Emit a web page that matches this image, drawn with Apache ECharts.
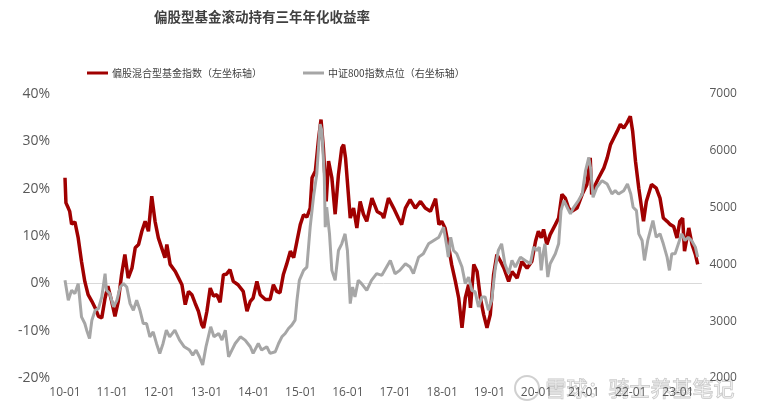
<!DOCTYPE html>
<html>
<head>
<meta charset="utf-8">
<script src="https://cdn.jsdelivr.net/npm/echarts@6/dist/echarts.min.js"></script>
<style>html,body{margin:0;padding:0;background:#fff}#c{width:759px;height:411px}</style>
</head>
<body>
<div id="c"></div>
<script>
const titleText = '偏股型基金滚动持有三年年化收益率';
const fundName = '偏股混合型基金指数（左坐标轴）';
const csiName = '中证800指数点位（右坐标轴）';
const xTickYears = [2010,2011,2012,2013,2014,2015,2016,2017,2018,2019,2020,2021,2022,2023];
const leftTicks = [-20,-10,0,10,20,30,40];
const rightTicks = [2000,3000,4000,5000,6000,7000];

// fund index: rolling 3-year annualised return (%), x = fractional year
const fundX = [2010.00,2010.02,2010.07,2010.10,2010.14,2010.21,2010.28,2010.35,2010.42,2010.49,2010.57,2010.64,2010.71,2010.78,2010.85,2010.91,2010.99,
2011.06,2011.13,2011.20,2011.27,2011.34,2011.42,2011.49,2011.56,2011.63,2011.70,2011.77,2011.84,2011.91,2011.98,
2012.05,2012.12,2012.16,2012.23,2012.34,2012.41,2012.48,2012.55,2012.62,2012.69,2012.76,2012.83,2012.90,2012.94,
2013.01,2013.08,2013.15,2013.22,2013.29,2013.36,2013.42,2013.50,2013.57,2013.67,2013.78,2013.86,2013.93,2013.99,
2014.07,2014.14,2014.25,2014.35,2014.42,2014.49,2014.56,2014.63,2014.70,2014.78,2014.85,2014.92,2014.99,
2015.06,2015.13,2015.20,2015.24,2015.31,2015.38,2015.43,2015.48,2015.54,2015.59,2015.66,2015.73,2015.80,2015.87,2015.91,2015.95,
2016.05,2016.12,2016.19,2016.26,2016.33,2016.40,2016.51,2016.62,2016.72,2016.76,2016.86,2016.97,
2017.07,2017.14,2017.22,2017.32,2017.43,2017.54,2017.64,2017.75,2017.86,2017.93,2017.99,
2018.06,2018.13,2018.20,2018.28,2018.35,2018.42,2018.49,2018.56,2018.60,2018.67,2018.74,2018.81,2018.88,2018.95,
2019.02,2019.09,2019.16,2019.24,2019.31,2019.41,2019.48,2019.59,2019.69,2019.80,2019.90,2019.98,
2020.04,2020.10,2020.15,2020.22,2020.29,2020.40,2020.47,2020.54,2020.61,2020.68,2020.75,2020.86,2020.97,
2021.07,2021.14,2021.17,2021.25,2021.32,2021.43,2021.50,2021.57,2021.64,2021.71,2021.78,2021.85,2021.92,2021.99,
2022.04,2022.10,2022.17,2022.27,2022.33,2022.44,2022.54,2022.62,2022.69,2022.77,2022.84,2022.91,2022.98,
2023.04,2023.10,2023.14,2023.23,2023.30,2023.37,2023.42];
const fundY = [22.3,17.0,15.9,15.2,12.5,13.0,9.6,4.6,0.4,-2.4,-3.8,-5.2,-7.0,-7.3,-3.1,-0.6,-3.8,
-7.0,-3.8,1.8,6.1,1.1,3.2,7.5,8.2,11.0,13.1,11.0,18.4,13.1,9.6,
7.5,5.4,8.2,4.0,2.5,1.1,-0.3,-4.5,-1.7,-2.4,-4.2,-5.9,-8.7,-9.4,
-5.9,-1.0,-2.7,-2.4,-4.0,1.8,1.9,2.9,0.4,-0.3,-1.7,-5.9,-3.8,-3.1,
0.4,-2.4,-3.4,-3.4,-0.3,-1.7,-2.0,1.8,4.0,6.8,5.4,8.9,12.4,
14.5,14.0,15.9,22.3,23.7,30.7,34.6,28.6,17.3,25.8,22.3,14.6,23.0,28.6,29.3,26.5,
13.8,15.9,11.7,17.3,14.6,13.1,18.0,15.2,14.6,13.8,18.0,15.9,
13.8,12.4,15.9,17.7,15.9,17.3,15.9,15.2,17.9,12.4,13.1,
11.7,8.2,4.0,0.4,-3.1,-9.4,-3.1,-0.3,-5.2,4.0,2.5,-3.1,-6.6,-9.4,
-6.6,1.8,6.1,4.6,3.2,0.4,2.5,1.1,4.6,3.2,4.6,8.9,
11.0,9.6,11.4,8.2,10.3,12.4,13.8,18.8,18.0,15.9,15.2,15.9,18.8,
20.9,26.5,18.8,20.9,22.3,24.4,26.5,29.3,30.7,32.1,33.6,32.8,33.9,35.3,
32.1,25.8,20.1,13.1,17.3,20.9,20.1,18.0,13.8,13.1,12.4,12.0,9.6,
13.1,13.8,6.8,11.7,8.2,6.1,4.0];

// CSI 800 index level, x = fractional year
const csiX = [2010.00,2010.07,2010.14,2010.21,2010.28,2010.35,2010.42,2010.46,2010.52,2010.57,2010.64,2010.71,2010.78,2010.85,2010.88,2010.95,
2011.03,2011.10,2011.17,2011.24,2011.31,2011.38,2011.45,2011.52,2011.59,2011.66,2011.73,2011.80,2011.87,2011.94,
2012.01,2012.08,2012.15,2012.22,2012.33,2012.43,2012.53,2012.64,2012.71,2012.78,2012.85,2012.92,2012.99,
2013.09,2013.16,2013.26,2013.33,2013.40,2013.47,2013.54,2013.61,2013.72,2013.82,2013.93,2013.99,
2014.10,2014.17,2014.28,2014.35,2014.46,2014.53,2014.60,2014.67,2014.74,2014.81,2014.88,2014.92,2014.97,
2015.06,2015.13,2015.20,2015.27,2015.34,2015.41,2015.45,2015.50,2015.52,2015.55,2015.61,2015.66,2015.73,2015.80,2015.87,2015.94,2015.99,
2016.05,2016.10,2016.15,2016.22,2016.29,2016.40,2016.50,2016.61,2016.72,2016.76,2016.90,
2017.00,2017.10,2017.22,2017.32,2017.39,2017.50,2017.60,2017.71,2017.82,2017.93,
2018.03,2018.10,2018.13,2018.18,2018.24,2018.31,2018.42,2018.49,2018.56,2018.63,2018.70,2018.77,2018.84,2018.91,2018.98,
2019.05,2019.12,2019.19,2019.26,2019.33,2019.41,2019.48,2019.55,2019.66,2019.76,2019.87,2019.94,
2020.01,2020.06,2020.10,2020.14,2020.18,2020.24,2020.29,2020.40,2020.47,2020.52,2020.58,2020.65,2020.72,2020.79,2020.89,2020.97,
2021.04,2021.11,2021.15,2021.20,2021.28,2021.39,2021.50,2021.60,2021.67,2021.74,2021.85,2021.93,
2022.00,2022.05,2022.12,2022.17,2022.24,2022.29,2022.36,2022.47,2022.54,2022.62,2022.69,2022.77,2022.82,2022.87,2022.94,
2023.01,2023.08,2023.15,2023.22,2023.29,2023.37,2023.42];
const csiY = [3719,3368,3544,3486,3661,3076,2959,2842,2696,3018,3193,3222,3427,3837,3544,3486,
3251,3368,3602,3661,3602,3310,3193,3368,3193,2959,2959,2725,2813,2608,
2433,2608,2842,2725,2842,2667,2550,2491,2404,2491,2374,2228,2550,
2901,2725,2784,2667,2842,2374,2491,2608,2725,2667,2550,2433,
2608,2491,2550,2433,2462,2608,2725,2784,2872,2930,3018,3368,3719,
3895,3953,4655,5181,5591,6468,6351,5532,4655,5006,4538,3895,3719,4245,4362,4538,4245,
3310,3602,3427,3719,3661,3544,3719,3837,3807,3777,4070,
3837,3895,4012,3953,3837,4128,4187,4362,4421,4479,
4655,4304,4128,4479,4245,4187,3953,3661,3777,3544,3515,3251,3427,3427,3193,
3368,3895,4245,4362,4012,3837,4070,3953,4128,4070,4012,4304,
4245,4304,3895,4187,4362,3777,4012,4187,4362,4947,5123,5006,4889,5006,5123,5240,
5649,5883,5678,5181,5357,5474,5415,5240,5298,5240,5298,5415,
5240,5006,4947,4538,4421,4070,4421,4772,4479,4538,4362,4128,3895,4187,4187,
4362,4538,4421,4479,4421,4304,4128];

const fundData = fundX.map((x, i) => [x, fundY[i]]);
const csiData = csiX.map((x, i) => [x, csiY[i]]);

const chart = echarts.init(document.getElementById('c'), null, {renderer: 'canvas'});
const labelFont = 'Open Sans, Noto Sans, sans-serif';
chart.setOption({
  animation: false,
  backgroundColor: '#ffffff',
  title: {
    text: titleText,
    left: 149, top: 5,
    textStyle: {fontFamily: 'Noto Sans CJK SC', fontWeight: 'bold', fontSize: 13.5, color: '#404040'}
  },
  legend: [
    {data: [fundName], left: 82, top: 63, icon: 'rect', itemWidth: 21, itemHeight: 3, itemGap: 4,
     textStyle: {fontFamily: 'Noto Sans CJK SC', fontSize: 10, color: '#404040', padding: [0,0,0,-1]}},
    {data: [csiName], left: 298, top: 63, icon: 'rect', itemWidth: 21, itemHeight: 3, itemGap: 4,
     textStyle: {fontFamily: 'Noto Sans CJK SC', fontSize: 10, color: '#404040', padding: [0,0,0,-1]}}
  ],
  grid: {left: 65, right: 57.5, top: 94, bottom: 33, containLabel: false},
  xAxis: {
    type: 'value', min: 2010, max: 2023.5, interval: 1,
    splitLine: {show: false},
    axisTick: {show: false},
    axisLine: {show: true, lineStyle: {color: '#D9D9D9', width: 1}},
    axisLabel: {
      showMaxLabel: false, margin: 9,
      fontFamily: labelFont, fontSize: 12, color: '#595959',
      formatter: v => xTickYears.includes(Math.round(v)) ? String(Math.round(v) % 100).padStart(2, '0') + '-01' : ''
    }
  },
  yAxis: [
    {
      type: 'value', min: leftTicks[0], max: leftTicks[leftTicks.length - 1], interval: 10,
      splitLine: {show: false}, axisLine: {show: false}, axisTick: {show: false},
      axisLabel: {margin: 15, fontFamily: labelFont, fontSize: 14, color: '#595959', formatter: '{value}%'}
    },
    {
      type: 'value', min: rightTicks[0], max: rightTicks[rightTicks.length - 1], interval: 1000,
      position: 'right',
      splitLine: {show: false}, axisLine: {show: false}, axisTick: {show: false},
      axisLabel: {margin: 8, fontFamily: labelFont, fontSize: 12, color: '#595959', formatter: v => String(v)}
    }
  ],
  series: [
    {name: fundName, type: 'line', yAxisIndex: 0, data: fundData, showSymbol: false, symbol: 'none',
     lineStyle: {color: '#A00000', width: 3.5}, itemStyle: {color: '#A00000'}},
    {name: csiName, type: 'line', yAxisIndex: 1, data: csiData, showSymbol: false, symbol: 'none',
     lineStyle: {color: '#A6A6A6', width: 3}, itemStyle: {color: '#A6A6A6'}}
  ],
  graphic: [
    {type: 'circle', shape: {cx: 527, cy: 388, r: 12}, silent: true,
     style: {fill: 'none', stroke: 'rgba(170,170,170,0.55)', lineWidth: 2}},
    {type: 'text', left: 545, top: 377, silent: true,
     style: {text: '雪球：骑士养基笔记', fontFamily: 'Noto Sans CJK SC', fontSize: 21,
             fill: 'rgba(255,255,255,0.3)', stroke: 'rgba(160,160,160,0.6)', lineWidth: 1}}
  ]
});
</script>
</body>
</html>
